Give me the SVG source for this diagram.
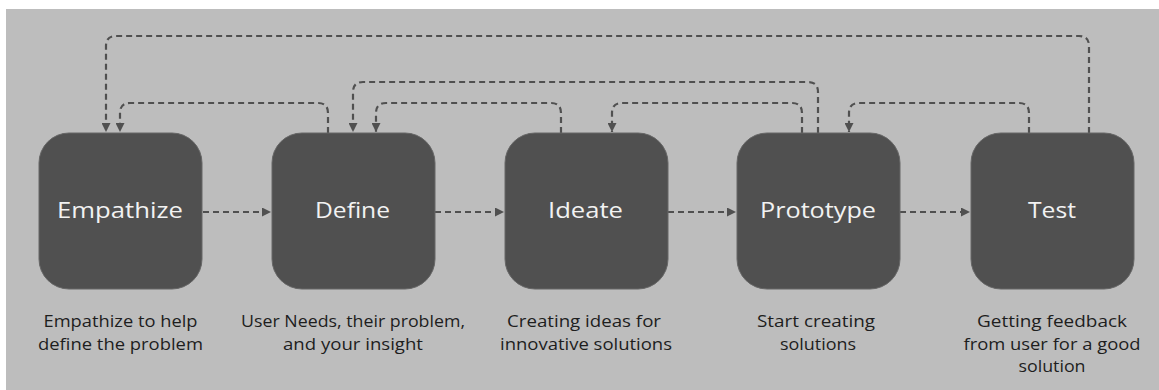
<svg xmlns="http://www.w3.org/2000/svg" width="1159" height="390" viewBox="0 0 1159 390">
  <style>
    .bg { fill: #bdbdbd; }
    .node rect { fill: #505050; stroke: #666666; stroke-width: 1; }
    .title { font-family: "Open Sans", "DejaVu Sans", sans-serif; font-size: 21px; fill: #f2f2f2; text-anchor: middle; }
    .desc { font-family: "Open Sans", "DejaVu Sans", sans-serif; font-size: 16.5px; fill: #1e1e1e; text-anchor: middle; }
    .link { fill: none; stroke: #505050; stroke-width: 2.2; stroke-dasharray: 6 4; marker-end: url(#arrow); }
  </style>
  <defs>
    <marker id="arrow" markerUnits="userSpaceOnUse" markerWidth="9" markerHeight="9" refX="9" refY="4.5" orient="auto">
      <path d="M0,0 L9,4.5 L0,9 Z" fill="#505050"/>
    </marker>
  </defs>

  <rect class="bg" x="6" y="9" width="1153" height="381"/>

  <!-- connectors -->
  <g id="connectors">
    <!-- forward flow -->
    <path class="link" d="M203,212 H271"/>
    <path class="link" d="M435,212 H504"/>
    <path class="link" d="M668,212 H736"/>
    <path class="link" d="M900,212 H970"/>
    <!-- feedback loops -->
    <path class="link" d="M1089,133 V46 Q1089,36 1079,36 H116 Q106,36 106,46 V132"/>
    <path class="link" d="M328,133 V113 Q328,103 318,103 H130 Q120,103 120,113 V132"/>
    <path class="link" d="M818,133 V92 Q818,82 808,82 H363 Q353,82 353,92 V132"/>
    <path class="link" d="M561,133 V113 Q561,103 551,103 H386 Q376,103 376,113 V132"/>
    <path class="link" d="M802,133 V113 Q802,103 792,103 H622 Q612,103 612,113 V132"/>
    <path class="link" d="M1029,133 V113 Q1029,103 1019,103 H859 Q849,103 849,113 V132"/>
  </g>

  <g id="empathize" class="node">
    <rect x="39" y="133" width="163" height="156" rx="30"/>
    <text class="title" x="120" y="218" textLength="126" lengthAdjust="spacingAndGlyphs">Empathize</text>
    <text class="desc" x="120.5" y="327" textLength="154" lengthAdjust="spacingAndGlyphs">Empathize to help</text>
    <text class="desc" x="120.5" y="349.5" textLength="165" lengthAdjust="spacingAndGlyphs">define the problem</text>
  </g>

  <g id="define" class="node">
    <rect x="272" y="133" width="163" height="156" rx="30"/>
    <text class="title" x="352.5" y="218" textLength="75" lengthAdjust="spacingAndGlyphs">Define</text>
    <text class="desc" x="353" y="327" textLength="224" lengthAdjust="spacingAndGlyphs">User Needs, their problem,</text>
    <text class="desc" x="353" y="349.5" textLength="140" lengthAdjust="spacingAndGlyphs">and your insight</text>
  </g>

  <g id="ideate" class="node">
    <rect x="505" y="133" width="163" height="156" rx="30"/>
    <text class="title" x="585.5" y="218" textLength="75" lengthAdjust="spacingAndGlyphs">Ideate</text>
    <text class="desc" x="584" y="327" textLength="154" lengthAdjust="spacingAndGlyphs">Creating ideas for</text>
    <text class="desc" x="586" y="349.5" textLength="172" lengthAdjust="spacingAndGlyphs">innovative solutions</text>
  </g>

  <g id="prototype" class="node">
    <rect x="737" y="133" width="163" height="156" rx="30"/>
    <text class="title" x="818" y="218" textLength="116" lengthAdjust="spacingAndGlyphs">Prototype</text>
    <text class="desc" x="816" y="327" textLength="118" lengthAdjust="spacingAndGlyphs">Start creating</text>
    <text class="desc" x="818" y="349.5" textLength="76" lengthAdjust="spacingAndGlyphs">solutions</text>
  </g>

  <g id="test" class="node">
    <rect x="971" y="133" width="163" height="156" rx="30"/>
    <text class="title" x="1052" y="218" textLength="48" lengthAdjust="spacingAndGlyphs">Test</text>
    <text class="desc" x="1052" y="327" textLength="150" lengthAdjust="spacingAndGlyphs">Getting feedback</text>
    <text class="desc" x="1052" y="349.5" textLength="177" lengthAdjust="spacingAndGlyphs">from user for a good</text>
    <text class="desc" x="1052" y="372" textLength="67" lengthAdjust="spacingAndGlyphs">solution</text>
  </g>
</svg>
